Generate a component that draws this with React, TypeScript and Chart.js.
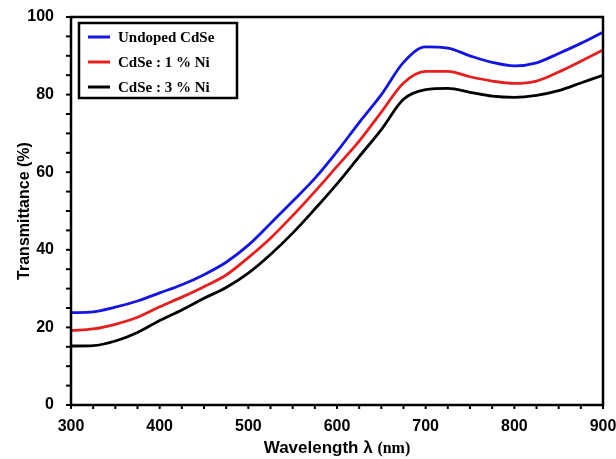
import React, { useEffect, useRef } from "react";
import { Chart, registerables } from "chart.js";

Chart.register(...registerables);

const wavelengths = [300, 325, 350, 375, 400, 425, 450, 475, 500, 525, 550, 575, 600, 625, 650, 675, 700, 725, 750, 775, 800, 825, 850, 875, 900];
const undoped = [23.8, 24.0, 25.2, 26.8, 28.9, 31.0, 33.6, 36.8, 41.2, 46.8, 52.5, 58.4, 65.3, 72.8, 80.0, 88.3, 92.3, 92.0, 90.0, 88.3, 87.4, 88.2, 90.6, 93.2, 96.1];
const ni1 = [19.2, 19.6, 20.8, 22.6, 25.3, 27.8, 30.5, 33.5, 38.0, 43.0, 48.8, 55.0, 61.5, 68.0, 75.5, 83.0, 86.0, 86.0, 84.6, 83.5, 82.9, 83.5, 85.8, 88.6, 91.5];
const ni3 = [15.2, 15.3, 16.5, 18.7, 21.8, 24.5, 27.5, 30.3, 34.0, 38.8, 44.3, 50.5, 57.0, 64.0, 71.0, 78.8, 81.3, 81.6, 80.6, 79.6, 79.3, 79.8, 81.0, 83.0, 85.0];
const seriesLabels = ["Undoped CdSe", "CdSe : 1 % Ni", "CdSe : 3 % Ni"];
const seriesColors = ["#1414e6", "#e61e1e", "#000000"];
const xMajor = [300, 400, 500, 600, 700, 800, 900];
const yMajor = [0, 20, 40, 60, 80, 100];
const xTitleMain = "Wavelength λ ";
const xTitleUnit = "(nm)";

const SANS = "Arial, 'Liberation Sans', sans-serif";
const SERIF = "'Liberation Serif', 'Times New Roman', serif";

const framePlugin = {
  id: "frameAndLegend",
  afterDraw(chart: any) {
    const { ctx, chartArea } = chart;
    const xs = chart.scales.x;
    const ys = chart.scales.y;
    ctx.save();
    ctx.strokeStyle = "#000";
    ctx.lineWidth = 2.5;
    ctx.strokeRect(chartArea.left, chartArea.top, chartArea.right - chartArea.left, chartArea.bottom - chartArea.top);
    ctx.lineWidth = 2;
    for (let v = 300; v <= 900; v += 25) {
      const px = xs.getPixelForValue(v);
      ctx.beginPath();
      ctx.moveTo(px, chartArea.bottom);
      ctx.lineTo(px, chartArea.bottom + 4);
      ctx.stroke();
    }
    for (let v = 0; v <= 100; v += 5) {
      const py = ys.getPixelForValue(v);
      ctx.beginPath();
      ctx.moveTo(chartArea.left, py);
      ctx.lineTo(chartArea.left - 5, py);
      ctx.stroke();
    }
    // x title with mixed fonts
    ctx.fillStyle = "#000";
    ctx.textBaseline = "alphabetic";
    ctx.textAlign = "left";
    const f1 = `bold 17px ${SANS}`;
    const f2 = `bold 16px ${SERIF}`;
    ctx.font = f1;
    const w1 = ctx.measureText(xTitleMain).width;
    ctx.font = f2;
    const w2 = ctx.measureText(xTitleUnit).width;
    const cx = (chartArea.left + chartArea.right) / 2;
    const tx = cx - (w1 + w2) / 2;
    const ty = 453;
    ctx.font = f1;
    ctx.fillText(xTitleMain, tx, ty);
    ctx.font = f2;
    ctx.fillText(xTitleUnit, tx + w1, ty);
    // legend
    const bx = chartArea.left + 8;
    const by = chartArea.top + 6;
    ctx.lineWidth = 2.5;
    ctx.strokeRect(bx, by, 158, 75);
    ctx.font = `bold 15px ${SERIF}`;
    ctx.textBaseline = "middle";
    chart.data.datasets.forEach((ds: any, i: number) => {
      const y = by + 14 + i * 25;
      ctx.strokeStyle = ds.borderColor;
      ctx.lineWidth = 3;
      ctx.beginPath();
      ctx.moveTo(bx + 9, y);
      ctx.lineTo(bx + 31, y);
      ctx.stroke();
      ctx.fillStyle = "#000";
      ctx.fillText(ds.label, bx + 39, y + 1);
    });
    ctx.restore();
  },
};

export default function App() {
  const ref = useRef<HTMLCanvasElement>(null);
  useEffect(() => {
    document.body.style.margin = "0";
    const series = [undoped, ni1, ni3];
    const chart = new Chart(ref.current!, {
      type: "line",
      data: {
        datasets: series.map((s, i) => ({
          label: seriesLabels[i],
          data: wavelengths.map((w, j) => ({ x: w, y: s[j] })),
          borderColor: seriesColors[i],
          backgroundColor: seriesColors[i],
          borderWidth: 2.8,
          pointRadius: 0,
          cubicInterpolationMode: "monotone" as const,
        })),
      },
      options: {
        animation: false,
        responsive: false,
        layout: { padding: { left: 0, top: 17, right: 13, bottom: 0 } },
        plugins: { legend: { display: false }, tooltip: { enabled: false } },
        scales: {
          x: {
            type: "linear",
            min: 300,
            max: 900,
            afterBuildTicks: (s: any) => { s.ticks = xMajor.map((v) => ({ value: v })); },
            afterFit: (s: any) => { s.height = 54; s.paddingLeft = 0; s.paddingRight = 0; },
            grid: { display: false },
            border: { display: false },
            ticks: { color: "#000", padding: 4, font: { family: SANS, size: 16, weight: "bold" } },
            title: { display: false },
          },
          y: {
            type: "linear",
            min: 0,
            max: 100,
            afterBuildTicks: (s: any) => { s.ticks = yMajor.map((v) => ({ value: v })); },
            afterFit: (s: any) => { s.width = 71; s.paddingTop = 0; s.paddingBottom = 0; },
            grid: { display: false },
            border: { display: false },
            ticks: { color: "#000", padding: 9, font: { family: SANS, size: 16, weight: "bold" } },
            title: { display: true, text: "Transmittance (%)", color: "#000", padding: { top: 15, bottom: 0 }, font: { family: SANS, size: 16, weight: "bold" } },
          },
        },
      },
      plugins: [framePlugin],
    });
    return () => chart.destroy();
  }, []);
  return <canvas ref={ref} width={616} height={459} style={{ display: "block" }} />;
}
